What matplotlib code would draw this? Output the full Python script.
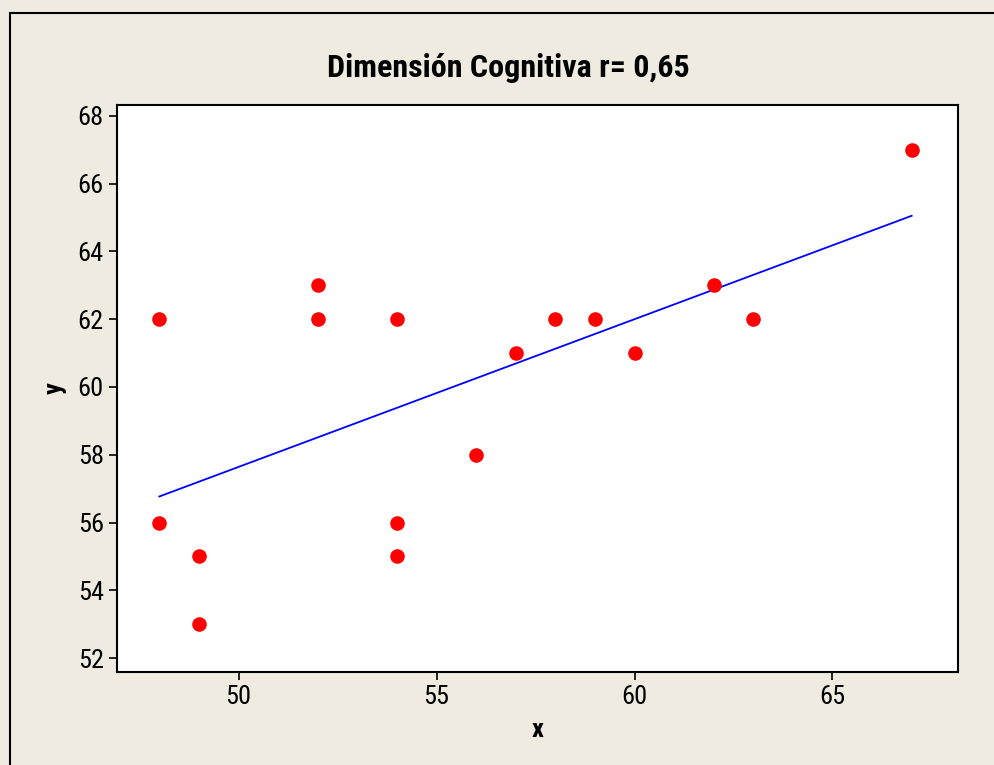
import matplotlib
matplotlib.use("Agg")
import matplotlib.pyplot as plt
import numpy as np
from matplotlib import font_manager
from matplotlib.patches import Rectangle

# Dimension cognitiva data
xValues = [48, 48, 49, 49, 52, 52, 54, 54, 54, 56, 57, 58, 59, 60, 62, 63, 67]
yValues = [62, 56, 55, 53, 63, 62, 62, 56, 55, 58, 61, 62, 62, 61, 63, 62, 67]
xTicks = [50, 55, 60, 65]
yTicks = [52, 54, 56, 58, 60, 62, 64, 66, 68]

BG_COLOUR = "#EFEBE1"

# try to get something narrow like the original Tahoma-ish look
installed = set(f.name for f in font_manager.fontManager.ttflist)
for cand in ['Liberation Sans Narrow', 'DejaVu Sans Condensed', 'Roboto Condensed',
             'Open Sans Condensed', 'Noto Sans Condensed']:
    if cand in installed:
        plt.rcParams['font.family'] = [cand, 'DejaVu Sans']
        break
else:
    plt.rcParams['font.family'] = ['Roboto', 'DejaVu Sans']

fig = plt.figure(figsize=(9.95, 7.65), dpi=100)
fig.patch.set_facecolor(BG_COLOUR)

# outer frame, only top/left edges land inside the image
fig.patches.append(Rectangle((10 / 995, -0.05), 1.2, (765 - 13) / 765 + 0.05,
                             transform=fig.transFigure, fill=False,
                             edgecolor='black', linewidth=1.5))

ax = fig.add_axes([117 / 995, (765 - 672) / 765, (958 - 117) / 995, (672 - 105) / 765])
ax.set_facecolor('white')

x = np.array(xValues, dtype=float)
y = np.array(yValues, dtype=float)
slope, intercept = np.polyfit(x, y, 1)
xl = np.array([x.min(), x.max()])
ax.plot(xl, slope * xl + intercept, color='blue', linewidth=1.3)
ax.plot(x, y, 'o', color='red', markersize=10.5, markeredgewidth=0)

ax.set_xlim(46.93, 68.17)
ax.set_ylim(51.59, 68.32)
ax.set_xticks(xTicks)
ax.set_yticks(yTicks)
ax.tick_params(labelsize=19, length=6, width=1.2, color='black')
for sp in ax.spines.values():
    sp.set_linewidth(1.5)

fig.text(508 / 995, (765 - 68) / 765, 'Dimensión Cognitiva r= 0,65', fontsize=23,
         fontweight='bold', ha='center', va='center')
ax.set_xlabel('x', fontsize=19, fontweight='bold', labelpad=6)
ax.set_ylabel('y', fontsize=19, fontweight='bold', labelpad=8)

fig.savefig('out.png', dpi=100, facecolor=BG_COLOUR)
